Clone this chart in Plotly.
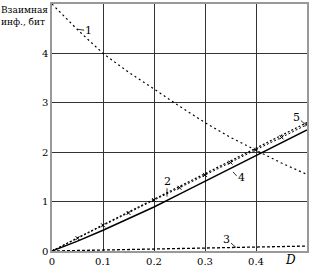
import plotly.graph_objects as go

D = [0, 0.05, 0.1, 0.15, 0.2, 0.25, 0.3, 0.35, 0.4, 0.45, 0.5]
curve1 = [5.0, 4.48, 4.0, 3.62, 3.28, 2.93, 2.6, 2.3, 2.04, 1.78, 1.55]
curve2 = [0, 0.26, 0.52, 0.77, 1.03, 1.28, 1.54, 1.79, 2.05, 2.3, 2.56]
curve3 = [0, 0.01, 0.02, 0.03, 0.04, 0.045, 0.05, 0.06, 0.075, 0.085, 0.1]
curve4 = [0, 0.2, 0.42, 0.65, 0.89, 1.15, 1.41, 1.67, 1.93, 2.19, 2.45]
curve5 = [0, 0.27, 0.53, 0.79, 1.05, 1.31, 1.57, 1.83, 2.08, 2.34, 2.6]
xticks = [0, 0.1, 0.2, 0.3, 0.4]
xticklabels = ["0", "0.1", "0.2", "0.3", "0.4"]
yticks = [0, 1, 2, 3, 4]

FONT = "DejaVu Serif"

fig = go.Figure()
fig.add_trace(go.Scatter(x=D, y=curve1, mode="lines", line=dict(color="black", width=1.2, dash="2px,3px")))
fig.add_trace(go.Scatter(x=D, y=curve5, mode="lines", line=dict(color="black", width=1.2, dash="2px,2px")))
fig.add_trace(go.Scatter(x=D, y=curve2, mode="lines+markers", line=dict(color="black", width=1, dash="2px,2px"),
                         marker=dict(symbol="x-thin", size=4, line=dict(width=1, color="black"))))
fig.add_trace(go.Scatter(x=D, y=curve4, mode="lines", line=dict(color="black", width=1.5)))
fig.add_trace(go.Scatter(x=D, y=curve3, mode="lines", line=dict(color="black", width=1.3, dash="3px,2px")))

labels = [
    ("1", 0.072, 4.47, (0.049, 4.49, 0.063, 4.47)),
    ("2", 0.2255, 1.40, (0.2255, 1.27, 0.2255, 1.10)),
    ("3", 0.343, 0.24, (0.351, 0.16, 0.361, 0.07)),
    ("4", 0.372, 1.48, (0.355, 1.60, 0.362, 1.52)),
    ("5", 0.480, 2.70, (0.488, 2.64, 0.498, 2.55)),
]
for t, x, y, (x0, y0, x1, y1) in labels:
    fig.add_annotation(x=x, y=y, text=t, showarrow=False, font=dict(family=FONT, size=11, color="black"))
    fig.add_shape(type="line", x0=x0, y0=y0, x1=x1, y1=y1, line=dict(color="black", width=0.8))

fig.add_annotation(xref="paper", yref="paper", x=0.965, y=-0.038, yanchor="middle", text="<i>D</i>",
                   showarrow=False, font=dict(family=FONT, size=12, color="black"))
fig.add_annotation(xref="paper", yref="paper", x=-0.206, y=1.005, xanchor="left", yanchor="top",
                   text="Взаимная<br>инф., бит", align="left", showarrow=False,
                   font=dict(family=FONT, size=9, color="black"))

fig.update_xaxes(range=[0, 0.5], tickvals=xticks, ticktext=xticklabels, showgrid=True, gridcolor="#333",
                 gridwidth=1, zeroline=False, showline=True, linecolor="#999", linewidth=1.5, mirror=True,
                 ticks="", tickfont=dict(family=FONT, size=10, color="black"))
fig.update_yaxes(range=[0, 5], tickvals=yticks, showgrid=True, gridcolor="#333", gridwidth=1,
                 zeroline=False, showline=True, linecolor="#999", linewidth=1.5, mirror=True,
                 ticks="", tickfont=dict(family=FONT, size=10, color="black"))
fig.update_layout(width=312, height=269, margin=dict(l=52, r=5, t=2, b=17), showlegend=False,
                  plot_bgcolor="white", paper_bgcolor="white", font=dict(family=FONT))
fig.write_html("out.html")
